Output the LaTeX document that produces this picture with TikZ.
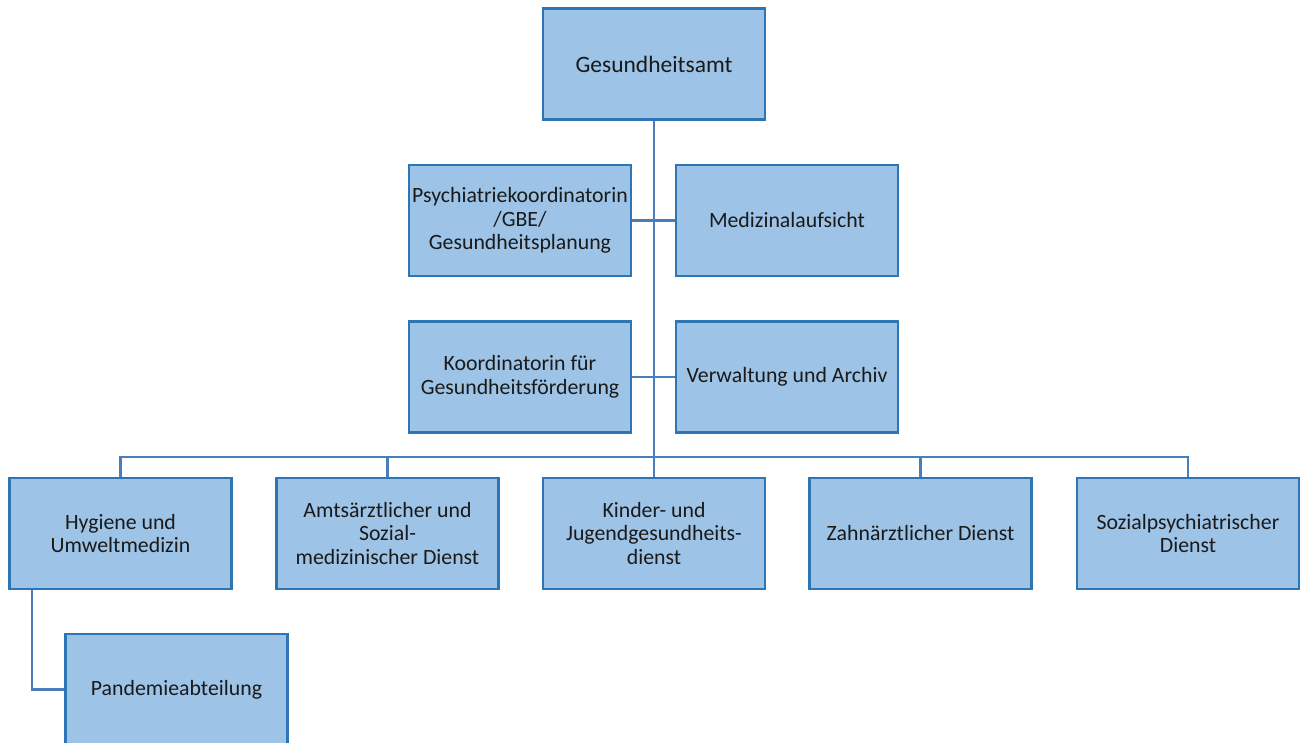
\documentclass[tikz,border=0pt]{standalone}
\usepackage{fontspec}
\setmainfont{Carlito}
\definecolor{boxfill}{HTML}{9DC3E6}
\definecolor{boxline}{HTML}{2E75B6}
\definecolor{conn}{HTML}{4A7EBB}
\definecolor{txt}{HTML}{1A1A1A}
\begin{document}
\begin{tikzpicture}[x=1pt,y=-1pt,
  unit/.style={draw=boxline, fill=boxfill, line width=2.6pt, rectangle,
    minimum width=222pt, minimum height=111pt, inner sep=0pt, align=center,
    text=txt, font=\fontsize{21.8}{23.5}\selectfont},
  link/.style={draw=conn, line width=2.6pt}]
\useasboundingbox (0,0) rectangle (1301,742);
\clip (0,0) rectangle (1301,742);
\node[unit, font=\fontsize{23.5}{25}\selectfont] (ga) at (654,64) {Gesundheitsamt};
\node[unit] (psy) at (520,220.5) {Psychiatriekoordinatorin\\/GBE/\\Gesundheitsplanung};
\node[unit] (med) at (787,220.5) {Medizinalaufsicht};
\node[unit] (koo) at (520,377) {Koordinatorin für\\Gesundheitsförderung};
\node[unit] (ver) at (787,377) {Verwaltung und Archiv};
\node[unit] (hyg) at (120.5,533.5) {Hygiene und\\Umweltmedizin};
\node[unit] (amt) at (387.5,533.5) {Amtsärztlicher und\\Sozial-\\medizinischer Dienst};
\node[unit] (kin) at (654,533.5) {Kinder- und\\Jugendgesundheits-\\dienst};
\node[unit] (zah) at (920.5,533.5) {Zahnärztlicher Dienst};
\node[unit] (soz) at (1188,533.5) {Sozialpsychiatrischer\\Dienst};
\node[unit] (pan) at (176.5,689.5) {Pandemieabteilung};
\coordinate (bus) at (654,457);
\coordinate (hygdrop) at (32,589);
\coordinate (pancorner) at (32,689.5);
\draw[link] (ga.south) -- (kin.north);
\draw[link] (psy.east) -- (med.west);
\draw[link] (koo.east) -- (ver.west);
\draw[link] (hyg.north) |- (bus) -| (soz.north);
\draw[link] (amt.north) -- (amt.north |- bus);
\draw[link] (zah.north) -- (zah.north |- bus);
\draw[link] (hygdrop) -- (pancorner) -- (pan.west);
\end{tikzpicture}
\end{document}
